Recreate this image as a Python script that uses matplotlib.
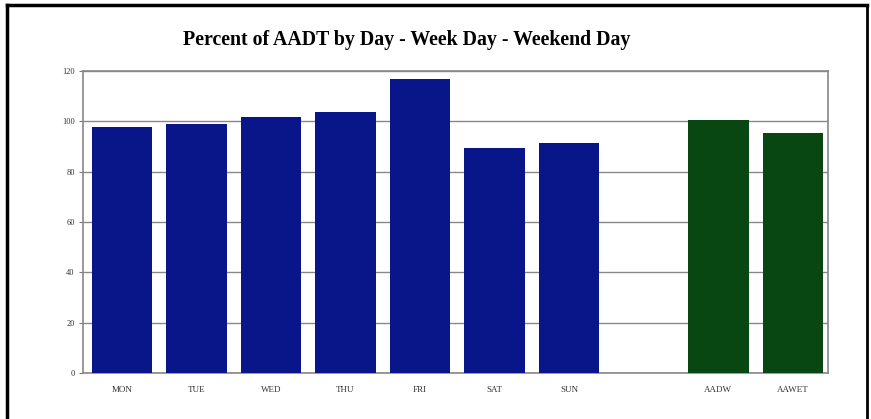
import matplotlib
matplotlib.use("Agg")
import matplotlib.pyplot as plt
from matplotlib.lines import Line2D

categories = ["MON", "TUE", "WED", "THU", "FRI", "SAT", "SUN", "", "AADW", "AAWET"]
values = [97.7, 98.8, 101.8, 103.9, 116.9, 89.6, 91.4, 0, 100.6, 95.4]
bar_colors = ["#08168a"] * 7 + ["none"] + ["#084712"] * 2
yticks = [0, 20, 40, 60, 80, 100, 120]
title = "Percent of AADT by Day - Week Day - Weekend Day"

W, H = 871, 419
fig = plt.figure(figsize=(W / 100, H / 100), dpi=100)
fig.patch.set_facecolor("white")
ax = fig.add_axes([83 / W, 1 - 373 / H, (828 - 83) / W, (373 - 71) / H])

x = list(range(len(categories)))
ax.bar(x, values, width=0.81, color=bar_colors, zorder=3)
ax.set_xlim(-0.52, 9.47)
ax.set_ylim(0, 120)
ax.set_yticks(yticks)
ax.set_yticklabels([str(v) for v in yticks], fontsize=6, family="Liberation Serif", color="#333333")
ax.set_xticks([i for i, c in enumerate(categories) if c])
ax.set_xticklabels([c for c in categories if c], fontsize=6.5, family="Liberation Serif", color="#333333")
ax.tick_params(axis="x", length=0, pad=9)
ax.tick_params(axis="y", length=3, color="#777777", pad=3)
ax.grid(axis="y", color="#888888", linewidth=1, zorder=1)
for s in ax.spines.values():
    s.set_color("#888888")
    s.set_linewidth(1.2)

fig.text(407 / W, 1 - 40 / H, title, ha="center", va="center",
         fontsize=14.3, fontweight="bold", family="Liberation Serif")

# figure frame (left, top, right)
fig.add_artist(Line2D([7 / W, 7 / W], [0, 1 - 5 / H], color="black", linewidth=2.5, transform=fig.transFigure))
fig.add_artist(Line2D([7 / W, 867 / W], [1 - 5 / H, 1 - 5 / H], color="black", linewidth=2.5, transform=fig.transFigure))
fig.add_artist(Line2D([867 / W, 867 / W], [0, 1 - 5 / H], color="black", linewidth=2, transform=fig.transFigure))

fig.savefig("out.png", dpi=100)
